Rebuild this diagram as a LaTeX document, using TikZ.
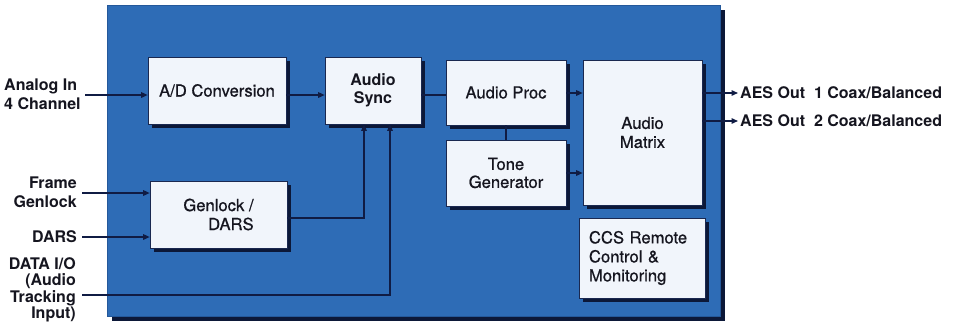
\documentclass[tikz,border=0pt]{standalone}
\usepackage{fontspec}
\setmainfont{TeX Gyre Heros}
\newfontface\medfont{TeX Gyre Heros}[FakeBold=0.8]
\usetikzlibrary{arrows.meta,shadows}
\definecolor{panelblue}{HTML}{2E6CB6}
\definecolor{paneledge}{HTML}{24589A}
\definecolor{boxfill}{HTML}{F1F5FB}
\definecolor{boxedge}{HTML}{1A2850}
\definecolor{shadowc}{HTML}{0C1838}
\definecolor{wirec}{HTML}{101C44}
\definecolor{textc}{HTML}{15151F}
\begin{document}
\begin{tikzpicture}[x=1pt,y=-1pt,
  panel/.style={fill=panelblue, draw=paneledge, line width=0.8pt, inner sep=0pt,
    drop shadow={shadow xshift=5pt, shadow yshift=-4.5pt, fill=shadowc, opacity=1}},
  box/.style={draw=boxedge, line width=0.6pt, fill=boxfill, inner sep=2pt, align=center,
    text=textc, font=\medfont\fontsize{16.6}{19}\selectfont,
    drop shadow={shadow xshift=3.5pt, shadow yshift=-4pt, fill=shadowc, opacity=1}},
  wire/.style={draw=wirec, line width=1.4pt},
  arr/.style={wire, -{Triangle[length=6.5pt,width=5.5pt]}},
  lab/.style={inner sep=0pt, text=textc, font=\bfseries\fontsize{16}{19}\selectfont}
]
\useasboundingbox (0,0) rectangle (953,322);
\fill[white] (0,0) rectangle (953,322);

\node[panel, minimum width=613pt, minimum height=311pt] (panel) at (413.5,160.5) {};

\node[box, minimum width=138pt, minimum height=67pt] (ad) at (217,90.5) {A/D Conversion};
\node[box, minimum width=96pt, minimum height=67pt, font=\bfseries\fontsize{16}{18.5}\selectfont] (sync) at (373,90.5) {Audio\\Sync};
\node[box, minimum width=120pt, minimum height=65pt] (proc) at (506,92.5) {Audio Proc};
\node[box, minimum width=120pt, minimum height=66pt] (tone) at (506,173) {Tone\\[-1pt]Generator};
\node[box, minimum width=119pt, minimum height=145pt] (matrix) at (642.5,132.5) {Audio\\Matrix};
\node[box, minimum width=126pt, minimum height=80pt, align=left, text width=106pt] (ccs) at (642,258) {CCS Remote\\Control \&\\Monitoring};
\node[box, minimum width=137pt, minimum height=67pt, align=right] (gen) at (218.5,214.5) {Genlock /\\DARS};

\coordinate (inA) at (85,95);
\coordinate (inF) at (82,193);
\coordinate (inD) at (82,237);
\coordinate (inT) at (82,295);
\coordinate (gtap) at (364,218);
\coordinate (ttap) at (390,295);
\coordinate (o1) at (738,93);
\coordinate (o2) at (738,121);

\draw[arr] (inA) -- (inA -| ad.west);
\draw[arr] (ad.east |- inA) -- (sync.west |- inA);
\draw[wire] (sync.east |- inA) -- (proc.west |- inA);
\draw[arr] (proc.east |- o1) -- (matrix.west |- o1);
\draw[arr] (tone.east) -- (matrix.west |- tone.east);
\draw[wire] (proc.south) -- (tone.north);
\draw[arr] (gen.east |- gtap) -- (gtap) -- (gtap |- sync.south);
\draw[arr] (inT) -- (ttap) -- (ttap |- sync.south);
\draw[arr] (inF) -- (inF -| gen.west);
\draw[arr] (inD) -- (inD -| gen.west);
\draw[arr] (matrix.east |- o1) -- (o1);
\draw[arr] (matrix.east |- o2) -- (o2);

\node[lab, anchor=west, align=left] (lA) at (4,94.5) {Analog In\\4 Channel};
\node[lab, anchor=east, align=right] (lF) at (77,192.5) {Frame\\Genlock};
\node[lab, anchor=east] (lD) at (77,237) {DARS};
\node[lab, anchor=east, align=right, font=\bfseries\fontsize{16}{16.4}\selectfont] (lT) at (76,290) {DATA I/O\\(Audio\hspace*{4pt}\\Tracking\\Input)};
\node[lab, anchor=west] (l1) at (740,93) {AES Out\ \ 1 Coax/Balanced};
\node[lab, anchor=west] (l2) at (740,121) {AES Out\ \ 2 Coax/Balanced};
\end{tikzpicture}
\end{document}
